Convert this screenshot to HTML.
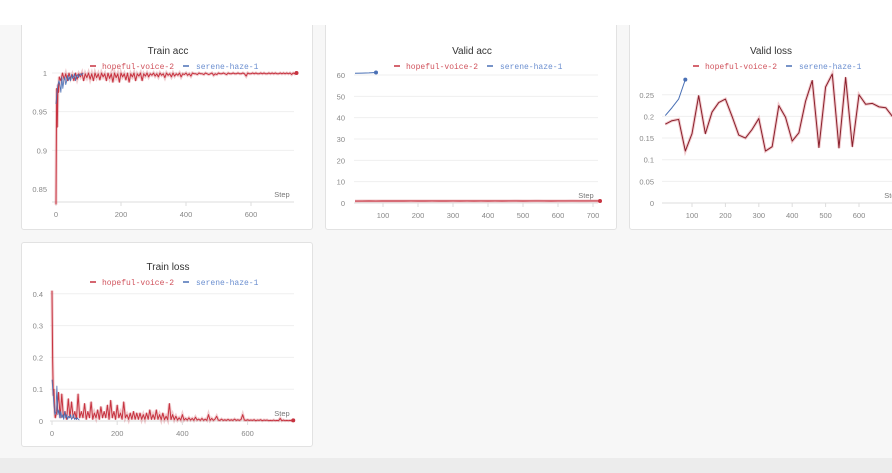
<!DOCTYPE html>
<html><head><meta charset="utf-8">
<style>
html,body{margin:0;padding:0}
body{width:892px;height:473px;background:#f7f7f7;position:relative;overflow:hidden;font-family:"Liberation Sans",sans-serif}
.topband{position:absolute;left:0;top:0;width:892px;height:25px;background:#fff;z-index:5}
.botband{position:absolute;left:0;top:458px;width:892px;height:15px;background:#ececec}
.panel{position:absolute;background:#fff;border:1px solid #e2e2e2;border-radius:3px;box-sizing:border-box}
.panel svg{position:absolute;left:0;top:0;overflow:visible}
</style></head><body>
<div class="topband"></div>
<div class="botband"></div>
<div class="panel" id="p1" style="left:21px;top:20px;width:292px;height:210px"><svg id="s1" width="292" height="210"></svg></div>
<div class="panel" id="p2" style="left:325px;top:20px;width:292px;height:210px"><svg id="s2" width="292" height="210"></svg></div>
<div class="panel" id="p3" style="left:629px;top:20px;width:280px;height:210px"><svg id="s3" width="280" height="210"></svg></div>
<div class="panel" id="p4" style="left:21px;top:242px;width:292px;height:205px"><svg id="s4" width="292" height="205"></svg></div>
<script>
// ---- Data ----
const trainAccHopefulPrefixSteps=[0,2,4,6,8];
const trainAccHopefulPrefix=[0.83,0.98,0.93,0.985,0.975];
const trainAccHopeful=[0.995,0.99,1,0.992,0.999,0.99,1,0.993,0.998,0.99,
1,0.992,0.999,0.995,1,0.99,0.999,0.994,1,0.992,
0.999,0.99,1,0.994,0.999,0.991,1,0.995,0.999,0.99,
1,0.993,0.999,0.988,1,0.994,0.999,0.988,1,0.995,
0.999,0.991,1,0.988,0.999,0.995,1,0.99,0.999,0.996,
1,0.99,0.999,0.996,1,0.995,0.999,0.997,1,0.996,
0.999,0.995,1,0.997,0.999,0.994,1,0.997,0.999,0.995,
1,0.996,0.999,0.997,1,0.995,0.999,0.998,1,0.997,
0.999,0.996,1,0.999,0.999,0.998,1,0.999,0.999,0.998,
1,0.999,0.998,0.999,1,0.997,0.999,0.998,1,0.999,
0.999,1,0.999,0.998,1,0.999,0.999,1,0.999,0.999,
1,0.999,0.999,1,0.999,0.996,1,0.999,0.999,1,
0.999,1,0.999,0.999,1,0.999,1,0.999,0.999,1,
0.999,1,0.999,1,0.999,0.999,1,0.999,1,0.999,
1,0.999,1,0.998,1,0.999,1];
const trainAccSerene=[0.96,0.975,0.985,0.99,0.985,0.975,0.995,0.98,0.99,0.995,0.985,0.99,0.997,0.99,0.995,0.99,0.998,0.993,0.995,0.999,0.99,0.996,0.998,0.994,0.998,0.999,0.997,0.999,1];
const trainLossHopefulPrefixSteps=[0,2,4,6,8];
const trainLossHopefulPrefix=[0.41,0.19,0.08,0.1,0.03];
const trainLossHopeful=[0.01,0.03,0.09,0.01,0.085,0.01,0.03,0.005,0.07,0.01,
0.06,0.01,0.03,0.005,0.085,0.01,0.03,0.01,0.055,0.005,
0.03,0.01,0.06,0.005,0.025,0.01,0.035,0.005,0.045,0.01,
0.03,0.01,0.05,0.005,0.065,0.01,0.03,0.005,0.05,0.01,
0.025,0.005,0.06,0.01,0.02,0.005,0.025,0.005,0.03,0.005,
0.025,0.005,0.025,0.005,0.02,0.005,0.025,0.005,0.035,0.005,
0.02,0.005,0.035,0.005,0.02,0.004,0.025,0.004,0.015,0.004,
0.055,0.004,0.02,0.004,0.015,0.003,0.01,0.003,0.02,0.003,
0.008,0.003,0.01,0.003,0.008,0.002,0.012,0.003,0.006,0.002,
0.008,0.002,0.006,0.002,0.02,0.002,0.008,0.002,0.006,0.015,
0.003,0.002,0.006,0.002,0.004,0.002,0.005,0.002,0.004,0.002,
0.006,0.002,0.004,0.002,0.005,0.02,0.003,0.002,0.004,0.002,
0.003,0.002,0.004,0.001,0.003,0.002,0.004,0.001,0.003,0.002,
0.003,0.001,0.002,0.001,0.003,0.001,0.002,0.001,0.008,0.001,
0.003,0.001,0.002,0.001,0.002,0.001,0.002];
const trainLossSerene=[0.13,0.09,0.05,0.02,0.03,0.11,0.02,0.035,0.01,0.03,0.01,0.02,0.005,0.03,0.01,0.02,0.005,0.015,0.01,0.02,0.005,0.01,0.02,0.005,0.01,0.005,0.01,0.005,0.003];
const validAccHopeful=[0.9,0.92,0.93,0.91,0.94,0.95,0.93,0.95,0.96,0.94,0.95,0.96,0.95,0.94,0.96,0.95,0.96,0.95,0.96,0.94,0.96,0.95,0.96,0.97,0.95,0.96,0.97,0.96,0.95,0.96,0.96,0.97,0.96,0.96,0.97,0.96];
const validAccSerene=[60.8,60.9,61.0,61.2];
const validLossHopeful=[0.182,0.19,0.193,0.12,0.16,0.248,0.16,0.21,0.232,0.24,0.2,0.157,0.15,0.17,0.195,0.12,0.13,0.225,0.198,0.143,0.162,0.235,0.283,0.128,0.268,0.298,0.127,0.29,0.13,0.25,0.228,0.23,0.222,0.22,0.2];
const validLossSerene=[0.202,0.22,0.24,0.285];
const xTicksA=[0,200,400,600];
const xTicksB=[100,200,300,400,500,600,700];
const yTicksAcc=[0.85,0.9,0.95,1];
const yTicksVAcc=[0,10,20,30,40,50,60];
const yTicksVLoss=[0,0.05,0.1,0.15,0.2,0.25];
const yTicksLoss=[0,0.1,0.2,0.3,0.4];

const RED='#c73340', DRED='#8a1f2b', BLUE='#4a70b5';
const NS='http://www.w3.org/2000/svg';
function mk(svg,tag,attrs,name){const e=document.createElementNS(NS,tag);for(const k in attrs)e.setAttribute(k,attrs[k]);


svg.appendChild(e);return e;}
function stepsFrom(start,inc,n){const a=[];for(let i=0;i<n;i++)a.push(start+i*inc);return a;}

function chart(id,cfg){
  const svg=document.getElementById(id);
  const X=s=>cfg.x0+s*cfg.kx, Y=v=>cfg.y0-(v-cfg.vmin)*cfg.ky;
  let t=mk(svg,'text',{x:cfg.tx,y:cfg.ty,'text-anchor':'middle','font-size':'10','fill':'#333'},'chart-title');t.textContent=cfg.title;
  const ly=cfg.ty+15;
  mk(svg,'line',{x1:cfg.tx-78,x2:cfg.tx-72,y1:ly-3,y2:ly-3,stroke:RED,'stroke-width':1.5},'legend-swatch-hopeful');
  t=mk(svg,'text',{x:cfg.tx-66,y:ly,'font-size':'8','fill':'#d0525c','font-family':'Liberation Mono, monospace'},'legend-entry-hopeful');t.textContent='hopeful-voice-2';
  mk(svg,'line',{x1:cfg.tx+15,x2:cfg.tx+21,y1:ly-3,y2:ly-3,stroke:BLUE,'stroke-width':1.5},'legend-swatch-serene');
  t=mk(svg,'text',{x:cfg.tx+28,y:ly,'font-size':'8','fill':'#6b8fd0','font-family':'Liberation Mono, monospace'},'legend-entry-serene');t.textContent='serene-haze-1';
  cfg.yt.forEach(v=>{
    if(v!==cfg.vmin)mk(svg,'line',{x1:cfg.px1,x2:cfg.px2,y1:Y(v),y2:Y(v),stroke:'#efefef','stroke-width':1},'gridline');
    const tt=mk(svg,'text',{x:cfg.lx,y:Y(v)+3,'text-anchor':'end','font-size':'7.5','fill':'#888'},'y-tick-label');tt.textContent=String(v);
  });
  mk(svg,'line',{x1:cfg.px1,x2:cfg.px2,y1:cfg.axisY,y2:cfg.axisY,stroke:'#ddd','stroke-width':1},'x-axis');
  cfg.xt.forEach(s=>{
    mk(svg,'line',{x1:X(s),x2:X(s),y1:cfg.axisY,y2:cfg.axisY+4,stroke:'#ddd'},'x-tick');
    const tt=mk(svg,'text',{x:X(s),y:cfg.axisY+15,'text-anchor':'middle','font-size':'7.5','fill':'#888'},'x-tick-label');tt.textContent=String(s);
  });
  t=mk(svg,'text',{x:cfg.stepX,y:cfg.axisY-5,'text-anchor':'middle','font-size':'7.5','fill':'#777'},'x-axis-title');t.textContent='Step';
  cfg.series.forEach(sr=>{
    const pts=sr.steps.map((s,i)=>X(s).toFixed(2)+','+Y(sr.vals[i]).toFixed(2)).join(' ');
    if(sr.fill) mk(svg,'polyline',{points:pts,fill:'none',stroke:sr.fill,'stroke-width':3,'stroke-opacity':0.25},sr.name+'-band');
    mk(svg,'polyline',{points:pts,fill:'none',stroke:sr.color,'stroke-width':sr.w||1,'stroke-linejoin':'round'},sr.name+'-line');
    if(sr.dot){const n=sr.steps.length-1;mk(svg,'circle',{cx:X(sr.steps[n]),cy:Y(sr.vals[n]),r:2,fill:sr.color},sr.name+'-end-dot');}
  });
}
// panel 1
const ta1S=trainAccHopefulPrefixSteps.concat(stepsFrom(10,5,trainAccHopeful.length));
const ta1V=trainAccHopefulPrefix.concat(trainAccHopeful);
chart('s1',{title:'Train acc',tx:146,ty:33,x0:34,kx:0.325,y0:168,vmin:0.85,ky:773.3,lx:25,px1:30,px2:272,axisY:181,
 yt:yTicksAcc,xt:xTicksA,stepX:260,series:[
 {name:'hopeful-train-acc',steps:ta1S,vals:ta1V,color:RED,fill:RED,w:1,dot:true},
 {name:'serene-train-acc',steps:stepsFrom(0,3,trainAccSerene.length),vals:trainAccSerene,color:BLUE,w:0.8}]});
// panel 2
chart('s2',{title:'Valid acc',tx:146,ty:33,x0:22,kx:0.35,y0:182,vmin:0,ky:2.133,lx:19,px1:28,px2:272,axisY:182,
 yt:yTicksVAcc,xt:xTicksB,stepX:260,series:[
 {name:'hopeful-valid-acc',steps:stepsFrom(20,20,validAccHopeful.length),vals:validAccHopeful,color:RED,fill:RED,w:1.2,dot:true},
 {name:'serene-valid-acc',steps:stepsFrom(20,20,validAccSerene.length),vals:validAccSerene,color:BLUE,w:1,dot:true}]});
// panel 3
chart('s3',{title:'Valid loss',tx:141,ty:33,x0:28.6,kx:0.334,y0:182,vmin:0,ky:433,lx:24,px1:32,px2:280,axisY:182,
 yt:yTicksVLoss,xt:xTicksB.slice(0,6),stepX:262,series:[
 {name:'hopeful-valid-loss',steps:stepsFrom(20,20,validLossHopeful.length),vals:validLossHopeful,color:DRED,fill:RED,w:1},
 {name:'serene-valid-loss',steps:stepsFrom(20,20,validLossSerene.length),vals:validLossSerene,color:BLUE,w:1,dot:true}]});
// panel 4
chart('s4',{title:'Train loss',tx:146,ty:27,x0:30,kx:0.326,y0:178,vmin:0,ky:318,lx:21,px1:28,px2:272,axisY:178,
 yt:yTicksLoss,xt:xTicksA,stepX:260,series:[
 {name:'hopeful-train-loss',steps:trainLossHopefulPrefixSteps.concat(stepsFrom(10,5,trainLossHopeful.length)),vals:trainLossHopefulPrefix.concat(trainLossHopeful),color:RED,fill:RED,w:1,dot:true},
 {name:'serene-train-loss',steps:stepsFrom(0,3,trainLossSerene.length),vals:trainLossSerene,color:BLUE,w:0.8}]});
</script>
</body></html>
